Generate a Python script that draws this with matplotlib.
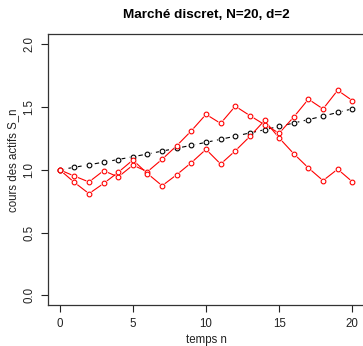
import numpy as np
import matplotlib
matplotlib.use("Agg")
import matplotlib.pyplot as plt

plt.rcParams['font.family'] = ['Liberation Sans', 'DejaVu Sans']

# temps n
n = list(range(21))

# actif sans risque (noir, pointille)
s0 = [1.000, 1.020, 1.040, 1.061, 1.082, 1.104, 1.126, 1.149, 1.172, 1.195,
      1.219, 1.243, 1.268, 1.294, 1.319, 1.346, 1.373, 1.400, 1.428, 1.457, 1.486]

# actifs risques (rouge)
s1 = [1.000, 0.950, 0.903, 0.993, 0.943, 1.037, 0.985, 1.084, 1.192, 1.311,
      1.442, 1.370, 1.507, 1.432, 1.360, 1.292, 1.421, 1.563, 1.485, 1.634, 1.552]
s2 = [1.000, 0.900, 0.810, 0.891, 0.980, 1.078, 0.970, 0.873, 0.961, 1.057,
      1.163, 1.046, 1.151, 1.266, 1.393, 1.254, 1.128, 1.015, 0.914, 1.005, 0.905]

W, H = 363, 346
fig = plt.figure(figsize=(W / 100, H / 100), dpi=100)
left, right, top, bottom = 48, 364, 34.3, 305.3
ax = fig.add_axes([left / W, 1 - bottom / H, (right - left) / W, (bottom - top) / H])


def type_b(x, y, color, ls):
    # imite type="b" de R : ligne interrompue autour des points
    ax.plot(x, y, color=color, lw=0.8, ls=ls, zorder=2)
    ax.plot(x, y, ls='none', marker='o', ms=5.2, mfc='white', mec='none', zorder=3)
    ax.plot(x, y, ls='none', marker='o', ms=3.4, mfc='white', mec=color, mew=0.8, zorder=4)


type_b(n, s0, 'black', (0, (4, 4)))
type_b(n, s1, 'red', '-')
type_b(n, s2, 'red', '-')

ax.set_xlim(-0.8, 20.8)
ax.set_ylim(-0.08, 2.08)
ax.set_xticks([0, 5, 10, 15, 20])
ax.set_yticks([0.0, 0.5, 1.0, 1.5, 2.0])
ax.set_yticklabels(['0.0', '0.5', '1.0', '1.5', '2.0'], rotation=90, va='center')
ax.tick_params(direction='out', length=5, width=0.8, labelsize=8.3, pad=4, colors='#222222')
for sp in ax.spines.values():
    sp.set_linewidth(0.9)
    sp.set_color('#333333')

fig.text((left + right) / 2 / W, 1 - 15 / H, 'Marché discret, N=20, d=2',
         ha='center', va='center', fontsize=9.7, fontweight='bold')
fig.text((left + right) / 2 / W, 1 - 340 / H, 'temps n',
         ha='center', va='center', fontsize=8.3, color='#222222')
fig.text(13 / W, 1 - 160 / H, 'cours des actifs S_n', rotation=90,
         ha='center', va='center', fontsize=8.3, color='#222222')

fig.savefig('out.png', dpi=100)
